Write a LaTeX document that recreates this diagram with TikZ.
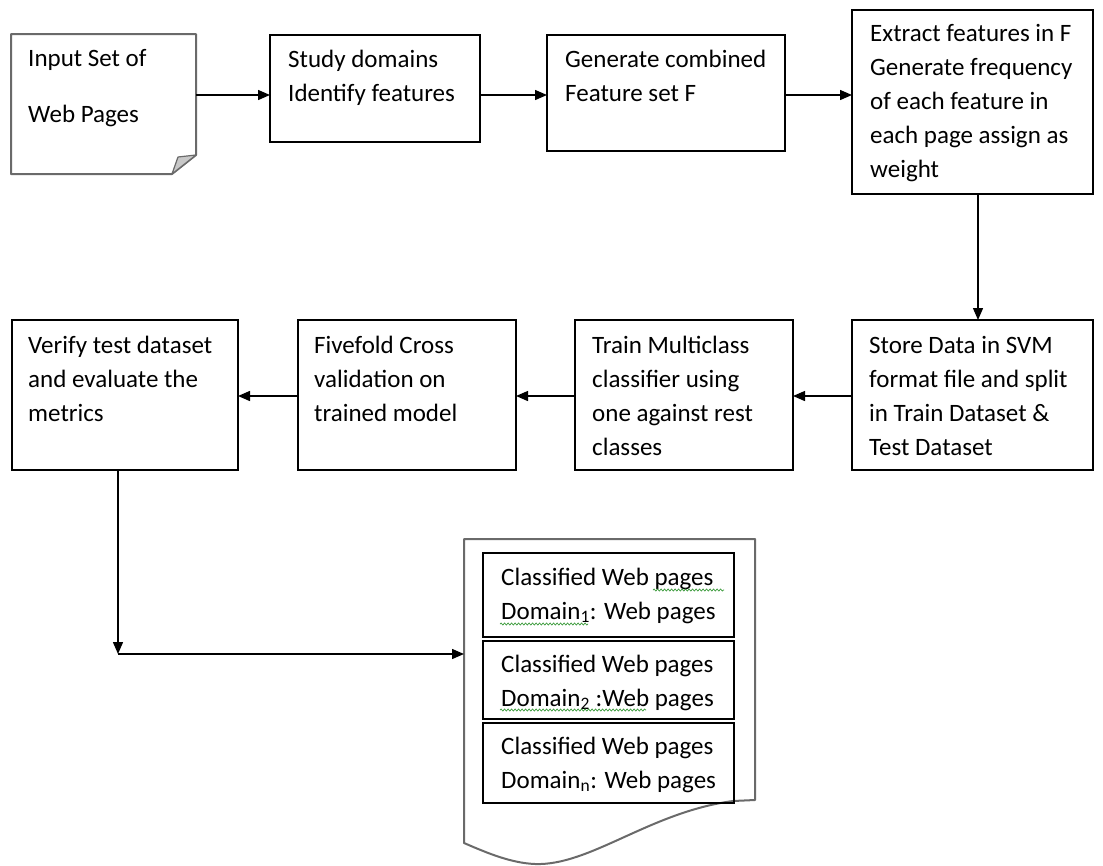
\documentclass[tikz,border=0pt]{standalone}
\usepackage{fontspec}
\setmainfont{Carlito}
\usetikzlibrary{arrows.meta,decorations.pathmorphing}
\definecolor{docgray}{HTML}{6A6A6A}
\definecolor{foldgray}{HTML}{C8C8C8}
\definecolor{spell}{HTML}{3A9A3A}
\begin{document}
\begin{tikzpicture}[x=1pt,y=-1pt,
  box/.style={draw=black,line width=1.5pt,anchor=north west,inner sep=0pt,outer sep=0pt},
  ghost/.style={anchor=north west,inner sep=0pt,outer sep=0pt},
  txt/.style={anchor=base west,inner sep=0pt,font=\fontsize{25}{30}\selectfont,text=black},
  arr/.style={-{Triangle[length=12pt,width=10pt]},line width=1.4pt,draw=black},
  docline/.style={draw=docgray,line width=2pt,line join=round},
  wavy/.style={draw=spell,line width=0.7pt,decorate,decoration={snake,amplitude=1pt,segment length=3.5pt}}
]
\useasboundingbox (0,0) rectangle (1103,865);

% ---------- row 1 ----------
\node[ghost,minimum width=185,minimum height=140] (b1) at (11,34) {};
\draw[docline,fill=white] (11,34) -- (196,34) -- (196,155) -- (172,174) -- (11,174) -- cycle;
\draw[draw=docgray,line width=1.2pt,fill=foldgray,line join=round] (172,174) -- (178,157) -- (196,155) -- cycle;
\node[txt] (t1a) at (28,66) {Input Set of};
\node[txt] (t1b) at (28,122) {Web Pages};

\node[box,minimum width=210,minimum height=107] (b2) at (270,35) {};
\foreach \s [count=\i from 0] in {Study domains,Identify features}
  \node[txt] (t2\i) at (288,67+34*\i) {\s};

\node[box,minimum width=238,minimum height=116] (b3) at (547,35) {};
\foreach \s [count=\i from 0] in {Generate combined,Feature set F}
  \node[txt] (t3\i) at (565,67+34*\i) {\s};

\node[box,minimum width=241,minimum height=184] (b4) at (852,10) {};
\foreach \s [count=\i from 0] in {Extract features in F,Generate frequency,of each feature in,each page assign as,weight}
  \node[txt] (t4\i) at (870,41+34.2*\i) {\s};

% ---------- row 2 ----------
\node[box,minimum width=226,minimum height=150] (b8) at (12,320) {};
\foreach \s [count=\i from 0] in {Verify test dataset,and evaluate the,metrics}
  \node[txt] (t8\i) at (28,353+34*\i) {\s};

\node[box,minimum width=218,minimum height=150] (b7) at (298,320) {};
\foreach \s [count=\i from 0] in {Fivefold Cross,validation on,trained model}
  \node[txt] (t7\i) at (314,353+34*\i) {\s};

\node[box,minimum width=218,minimum height=150] (b6) at (575,320) {};
\foreach \s [count=\i from 0] in {Train Multiclass,classifier using,one against rest,classes}
  \node[txt] (t6\i) at (592,353+34*\i) {\s};

\node[box,minimum width=241,minimum height=150] (b5) at (852,320) {};
\foreach \s [count=\i from 0] in {Store Data in SVM,format file and split,in Train Dataset \&,Test Dataset}
  \node[txt] (t5\i) at (869,353+34*\i) {\s};

% ---------- output document ----------
\node[ghost,minimum width=291,minimum height=304] (doc) at (464,539) {};
\draw[docline,fill=white] (464,539) -- (755,539) -- (755,800) -- (733,801)
  .. controls (650,812) and (590,866) .. (535,864)
  .. controls (510,863) and (485,852) .. (464,843) -- cycle;

\node[box,minimum width=251,minimum height=84] (c1) at (483,553) {};
\node[txt] (c1a) at (501,585) {Classified Web pages};
\node[txt] (c1b) at (501,619) {Domain\textsubscript{1}: Web pages};

\node[box,minimum width=251,minimum height=78] (c2) at (483,641) {};
\node[txt] (c2a) at (501,672) {Classified Web pages};
\node[txt] (c2b) at (501,706) {Domain\textsubscript{2} :Web pages};

\node[box,minimum width=251,minimum height=80] (c3) at (483,723) {};
\node[txt] (c3a) at (501,754) {Classified Web pages};
\node[txt] (c3b) at (501,788) {Domain\textsubscript{n}: Web pages};

% spell-check underlines
\draw[wavy] (653,590) -- (724,590);
\draw[wavy] (500,624) -- (588,624);
\draw[wavy] (500,710) -- (646,710);

% ---------- connectors ----------
\draw[arr] (b1.east |- 0,95) -- (b2.west |- 0,95);
\draw[arr] (b2.east |- 0,95) -- (b3.west |- 0,95);
\draw[arr] (b3.east |- 0,95) -- (b4.west |- 0,95);
\draw[arr] (b4.south -| 978,0) -- (b5.north -| 978,0);
\draw[arr] (b5.west |- 0,396) -- (b6.east |- 0,396);
\draw[arr] (b6.west |- 0,396) -- (b7.east |- 0,396);
\draw[arr] (b7.west |- 0,396) -- (b8.east |- 0,396);
\coordinate (corner) at (118,654);
\draw[arr] (b8.south -| corner) -- (corner);
\draw[arr] (corner) -- (doc.west |- corner);
\end{tikzpicture}
\end{document}
